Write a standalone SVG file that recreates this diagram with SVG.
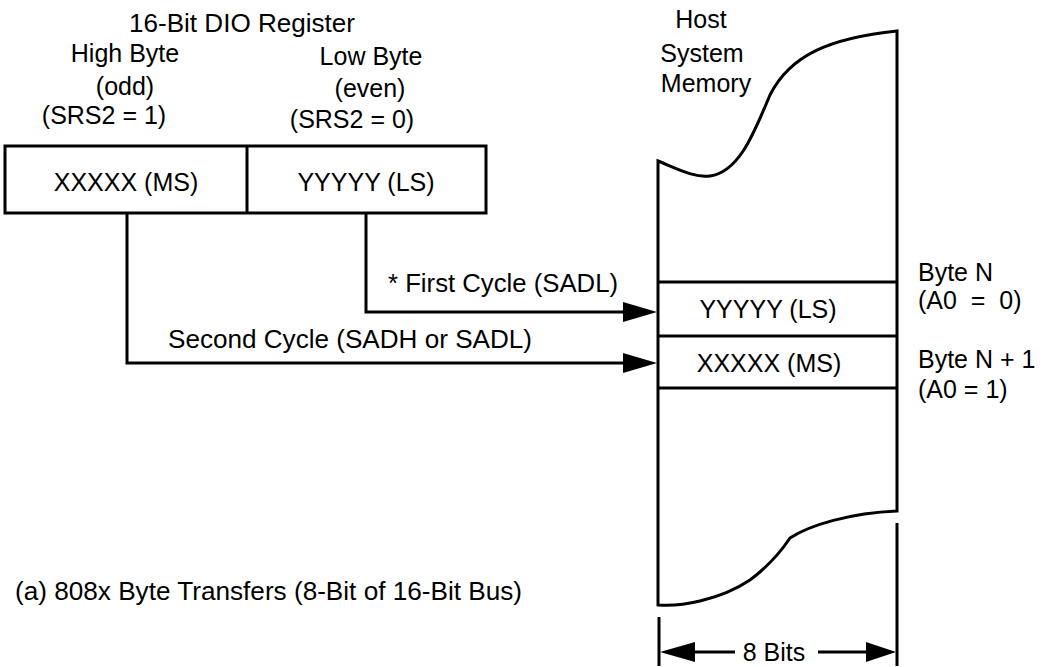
<svg xmlns="http://www.w3.org/2000/svg" width="1044" height="667" viewBox="0 0 1044 667">
<style>
text{font-family:"Liberation Sans",Arial,sans-serif;font-size:25px;fill:#000}
.c{text-anchor:middle}
.ln{fill:none;stroke:#000;stroke-width:3}
.ah{fill:#000;stroke:none}
</style>
<rect width="1044" height="667" fill="#fff"/>
<g id="register">
<text class="c" x="242" y="32" textLength="226" lengthAdjust="spacingAndGlyphs">16-Bit DIO Register</text>
<text class="c" x="125" y="62">High Byte</text>
<text class="c" x="125" y="95">(odd)</text>
<text class="c" x="104" y="124">(SRS2 = 1)</text>
<text class="c" x="371" y="65">Low Byte</text>
<text class="c" x="370" y="97">(even)</text>
<text class="c" x="352" y="128">(SRS2 = 0)</text>
<rect class="ln" x="5" y="146" width="481" height="67"/>
<line class="ln" x1="247" y1="146" x2="247" y2="213"/>
<text class="c" x="126" y="191">XXXXX (MS)</text>
<text class="c" x="366" y="191">YYYYY (LS)</text>
</g>
<g id="memory">
<text class="c" x="701" y="28">Host</text>
<text class="c" x="702" y="62">System</text>
<text class="c" x="706" y="92">Memory</text>
<path class="ln" d="M658,605 V161 C680,170 695,178 710,176 C740,172 755,130 770,95 C790,55 830,38 897,31 V511 C850,513 810,525 790,538 C782,550 770,565 750,580 C720,600 680,607 658,605 Z"/>
<line class="ln" x1="658" y1="282" x2="897" y2="282"/>
<line class="ln" x1="658" y1="336" x2="897" y2="336"/>
<line class="ln" x1="658" y1="388" x2="897" y2="388"/>
<text class="c" x="768" y="318">YYYYY (LS)</text>
<text class="c" x="769" y="372">XXXXX (MS)</text>
</g>
<g id="byte-labels">
<text x="918" y="281">Byte N</text>
<text x="918" y="309" xml:space="preserve">(A0  =  0)</text>
<text x="918" y="368">Byte N + 1</text>
<text x="918" y="398">(A0 = 1)</text>
</g>
<g id="connectors">
<path class="ln" d="M366,213 V312 H626"/>
<polygon class="ah" points="657,312 623,302 623,322"/>
<path class="ln" d="M127,213 V363 H626"/>
<polygon class="ah" points="657,363 623,353 623,373"/>
<text x="388" y="292" textLength="230" lengthAdjust="spacingAndGlyphs">* First Cycle (SADL)</text>
<text x="168" y="348" textLength="364" lengthAdjust="spacingAndGlyphs">Second Cycle (SADH or SADL)</text>
</g>
<g id="dimension">
<line class="ln" x1="659" y1="617" x2="659" y2="666"/>
<line class="ln" x1="897" y1="523" x2="897" y2="666"/>
<line class="ln" x1="692" y1="652" x2="735" y2="652"/>
<line class="ln" x1="818" y1="652" x2="869" y2="652"/>
<polygon class="ah" points="660,652 695,642 695,662"/>
<polygon class="ah" points="896,652 866,642 866,662"/>
<text class="c" x="774" y="661">8 Bits</text>
</g>
<g id="caption">
<text x="15" y="600" textLength="507" lengthAdjust="spacingAndGlyphs">(a) 808x Byte Transfers (8-Bit of 16-Bit Bus)</text>
</g>
</svg>
